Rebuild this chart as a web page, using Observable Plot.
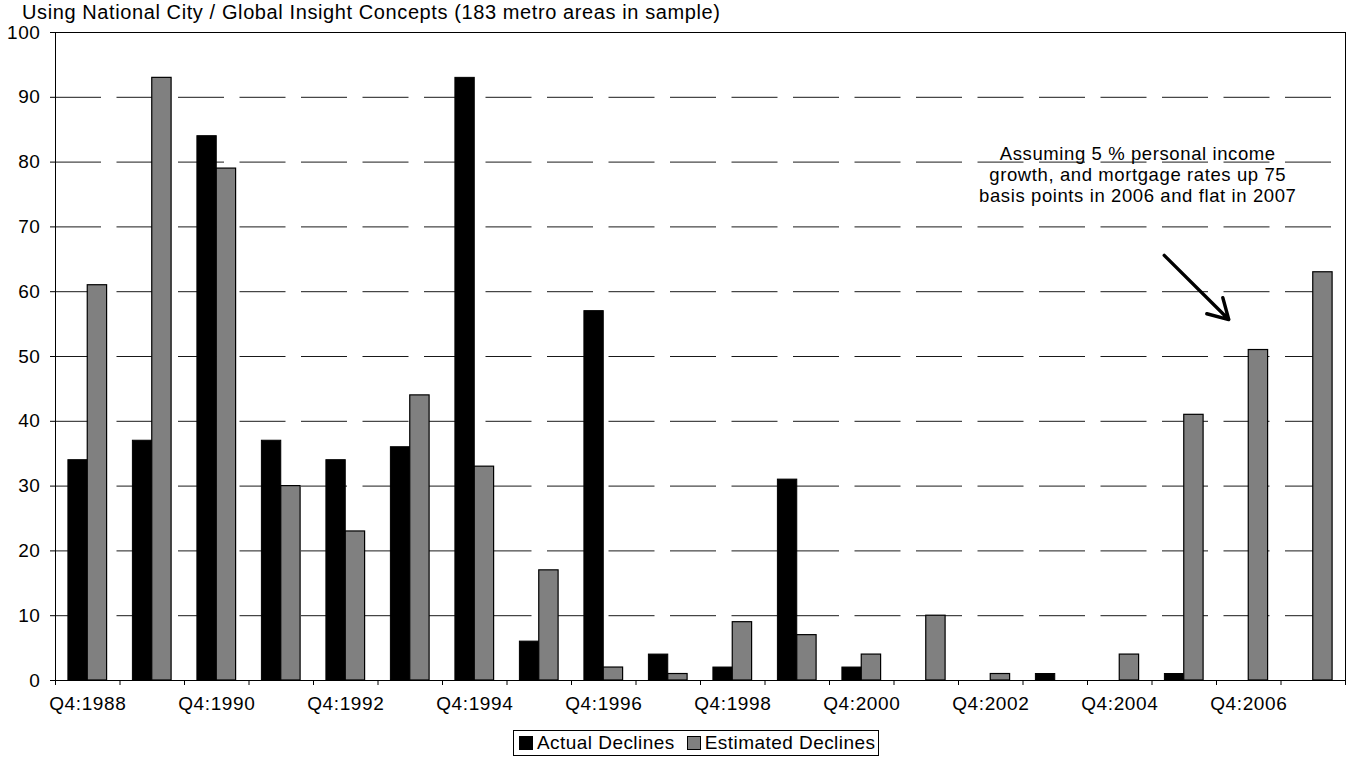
<!DOCTYPE html>
<html>
<head>
<meta charset="utf-8">
<script src="https://cdn.jsdelivr.net/npm/d3@7"></script>
<script src="https://cdn.jsdelivr.net/npm/@observablehq/plot@0.6"></script>
<style>
  html, body { margin: 0; padding: 0; background: #fff; overflow: hidden; }
  body { font-family: "Liberation Sans", Arial, sans-serif; color: #000; }
  #title { height: 14px; line-height: 24px; font-size: 20px; letter-spacing: 0.6px; padding-left: 22px; white-space: nowrap; overflow: visible; position: relative; z-index: 1; }
  #chart svg { display: block; }
  #chart svg text { letter-spacing: 0.6px; }
  #legend {
    box-sizing: border-box; margin: 6px 0 0 513px; width: 366px; height: 26px;
    border: 1px solid #000; display: flex; align-items: center; padding-left: 5px;
    font-size: 19px; letter-spacing: 0.45px; white-space: nowrap;
  }
  #legend .key { display: flex; align-items: center; margin-right: 12px; }
  #legend svg { margin-right: 4px; }
</style>
</head>
<body>
<div id="title">Using National City / Global Insight Concepts (183 metro areas in sample)</div>
<div id="chart"></div>
<div id="legend"></div>
<script>
// Fourth-quarter years on the category axis
const years = ["1988", "1989", "1990", "1991", "1992", "1993", "1994", "1995", "1996", "1997",
               "1998", "1999", "2000", "2001", "2002", "2003", "2004", "2005", "2006", "2007"];

// Number of metro areas with price declines
const actualDeclines    = [34, 37, 84, 37, 34, 36, 93, 6, 57, 4, 2, 31, 2, 0, 0, 1, 0, 1, 0, 0];
const estimatedDeclines = [61, 93, 79, 30, 23, 44, 33, 17, 2, 1, 9, 7, 4, 10, 1, 0, 4, 41, 51, 63];

const seriesNames = ["Actual Declines", "Estimated Declines"];
const seriesColors = ["#000000", "#808080"];

const yTicks = [0, 10, 20, 30, 40, 50, 60, 70, 80, 90, 100];
const labelYears = years.filter((d, i) => i % 2 === 0);

const note = "Assuming 5 % personal income\ngrowth, and mortgage rates up 75\nbasis points in 2006 and flat in 2007";

// Chart geometry
const width = 1352, height = 710;
const marginLeft = 55, marginRight = 7, marginTop = 18, marginBottom = 44;
const bw = (width - marginLeft - marginRight) / years.length;

const actualRows = years.map((year, i) => ({year, value: actualDeclines[i]})).filter(d => d.value > 0);
const estimatedRows = years.map((year, i) => ({year, value: estimatedDeclines[i]})).filter(d => d.value > 0);

const chart = Plot.plot({
  width, height, marginLeft, marginRight, marginTop, marginBottom,
  style: {fontFamily: "'Liberation Sans', Arial, sans-serif", fontSize: "19px", background: "transparent", color: "#000"},
  x: {type: "band", domain: years, padding: 0, round: false, label: null},
  y: {domain: [0, 100], label: null},
  marks: [
    // dashed horizontal gridlines
    Plot.ruleY(yTicks.filter(v => v > 0 && v < 100), {stroke: "#000", strokeOpacity: 0.9, strokeDasharray: "46,15.5"}),
    // grouped bars: actual on the left half, estimated on the right half of each year
    Plot.barY(actualRows, {x: "year", y: "value", fill: seriesColors[0], stroke: "#000", strokeWidth: 1,
      insetLeft: bw * 0.2, insetRight: bw * 0.5}),
    Plot.barY(estimatedRows, {x: "year", y: "value", fill: seriesColors[1], stroke: "#000", strokeWidth: 1.2,
      insetLeft: bw * 0.5, insetRight: bw * 0.2}),
    Plot.frame({stroke: "#000"}),
    // category boundary ticks under the axis
    Plot.ruleX(years, {x: d => d, y1: () => 0, y2: () => 0, insetBottom: -5, dx: -bw / 2, stroke: "#000"}),
    Plot.ruleX(years.slice(-1), {x: d => d, y1: () => 0, y2: () => 0, insetBottom: -5, dx: bw / 2, stroke: "#000"}),
    Plot.axisY({ticks: yTicks, tickSize: 5, tickPadding: 10, fontSize: 19, label: null}),
    Plot.axisX({ticks: labelYears, tickSize: 0, tickPadding: 16, fontSize: 19, label: null, tickFormat: d => "Q4:" + d}),
    // annotation
    Plot.text([note], {x: () => "2004", y: () => 78, text: d => d, dx: 18, dy: -1, fontSize: 18.5, lineHeight: 1.15,
      textAnchor: "middle", lineAnchor: "middle", fill: "#000"}),
    Plot.arrow([0], {x1: () => "2005", y1: () => 65.6, x2: () => "2006", y2: () => 55.7, dx: -20,
      stroke: "#000", strokeWidth: 3.4, headLength: 10})
  ]
});
document.getElementById("chart").append(chart);

// legend keys
const legend = d3.select("#legend");
seriesNames.forEach((name, i) => {
  const key = legend.append("span").attr("class", "key");
  key.append("svg").attr("width", 14).attr("height", 14)
    .append("rect").attr("x", 0.5).attr("y", 0.5).attr("width", 13).attr("height", 13)
    .attr("fill", seriesColors[i]).attr("stroke", "#000");
  key.append("span").text(name);
});
</script>
</body>
</html>
